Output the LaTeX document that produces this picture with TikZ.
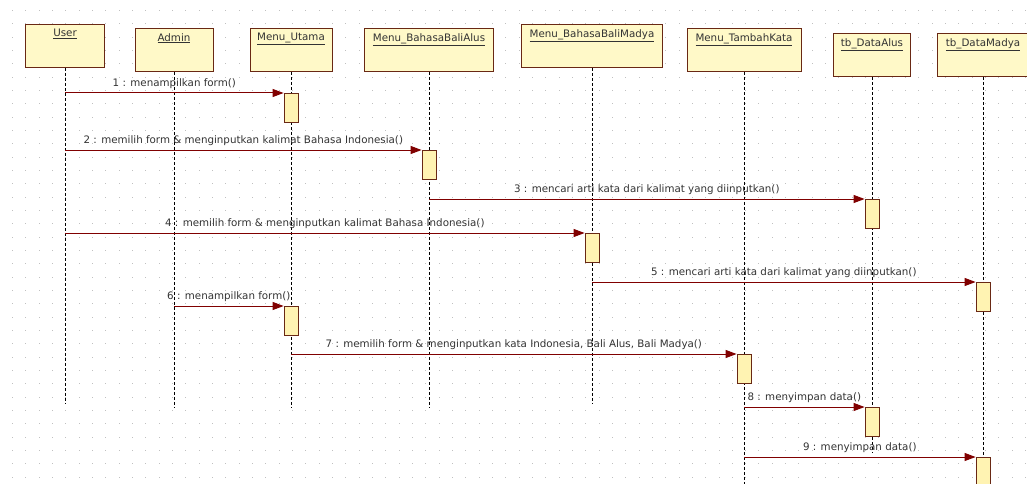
\documentclass[tikz,border=0pt]{standalone}
\usepackage{fontspec}
\setmainfont{DejaVu Sans}
\usepackage{tikz}
\usetikzlibrary{arrows.meta,positioning,calc}
\definecolor{headfill}{RGB}{255,249,200}
\definecolor{actfill}{RGB}{255,243,178}
\definecolor{edgebrown}{RGB}{105,40,20}
\definecolor{msgred}{RGB}{128,0,0}
\definecolor{griddot}{RGB}{192,192,192}
\tikzset{
    headbox/.style={draw=edgebrown, fill=headfill, line width=0.9pt, inner sep=0pt, anchor=north},
    headlbl/.style={anchor=north, inner sep=0pt, font=\fontsize{10.3}{12}\selectfont, text=black!80},
    lifeline/.style={black, line width=1pt, dash pattern=on 3pt off 2pt},
    actbox/.style={draw=edgebrown, fill=actfill, line width=0.8pt, minimum width=14pt, minimum height=29pt, inner sep=0pt, anchor=north},
    msg/.style={msgred, line width=1pt, -{Triangle[length=11pt,width=8pt]}},
    msglbl/.style={above, inner sep=0pt, yshift=4pt, font=\fontsize{10.3}{12}\selectfont, text=black!80}
}
\begin{document}
\begin{tikzpicture}[x=1pt,y=-1pt]
    \useasboundingbox (0,0) rectangle (1027,484);
    \fill[white] (0,0) rectangle (1027,484);

    % --- dotted background grid ---
    \foreach \gx in {12,25.33,...,1027}{
        \foreach \gy in {10,23.33,...,484}{
            \fill[griddot] (\gx,\gy) rectangle ++(1,1);
        }
    }

    % --- lifeline heads ---
    \foreach \nm/\cx/\ty/\bw/\txt in {
        user/65/24/79/User,
        admin/174/28/78/Admin,
        utama/291/28/82/Menu\_Utama,
        alus/429/28/129/Menu\_BahasaBaliAlus,
        madya/592/24/141/Menu\_BahasaBaliMadya,
        tambah/744/28/114/Menu\_TambahKata,
        dalus/872/33/77/tb\_DataAlus,
        dmadya/983/33/92/tb\_DataMadya}{
        \node[headbox, minimum width=\bw pt, minimum height=43pt] (\nm) at (\cx,\ty) {};
        \node[headlbl] (\nm lbl) at ($(\nm.north)+(0,5)$) {\underline{\txt}};
    }

    % --- lifelines ---
    \foreach \nm/\ey in {user/403,admin/407,utama/407,alus/407,madya/403,
        tambah/484,dalus/452,dmadya/484}{
        \coordinate (\nm end) at (\nm.south |- 0,\ey);
        \draw[lifeline] (\nm.south) -- (\nm end);
    }

    % --- messages with activation bars ---
    \foreach \n/\src/\dst/\my/\txt in {
        1/user/utama/93/{1 : menampilkan form()},
        2/user/alus/150/{2 : memilih form \& menginputkan kalimat Bahasa Indonesia()},
        3/alus/dalus/199/{3 : mencari arti kata dari kalimat yang diinputkan()},
        4/user/madya/233/{4 : memilih form \& menginputkan kalimat Bahasa Indonesia()},
        5/madya/dmadya/282/{5 : mencari arti kata dari kalimat yang diinputkan()},
        6/admin/utama/306/{6 : menampilkan form()},
        7/utama/tambah/354/{7 : memilih form \& menginputkan kata Indonesia, Bali Alus, Bali Madya()},
        8/tambah/dalus/407/{8 : menyimpan data()},
        9/tambah/dmadya/457/{9 : menyimpan data()}}{
        \node[actbox] (act\n) at (\dst.south |- 0,\my) {};
        \coordinate (from\n) at (\src.south |- act\n.north west);
        \draw[msg] (from\n) -- node[msglbl] (lbl\n) {\txt} (act\n.north west);
    }
\end{tikzpicture}
\end{document}
